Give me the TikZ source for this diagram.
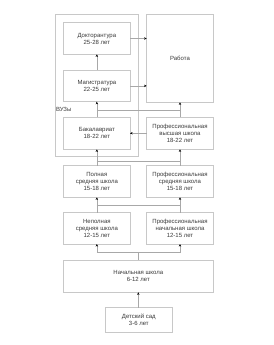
\documentclass[tikz,border=0pt]{standalone}
\usepackage{fontspec}
\setmainfont{Liberation Sans}
\usetikzlibrary{arrows.meta}
\definecolor{boxline}{HTML}{C8C8C8}
\definecolor{conn}{HTML}{A8A8A8}
\definecolor{txt}{HTML}{3A3A3A}
\begin{document}
\begin{tikzpicture}[x=1pt,y=-1pt,
  box/.style={draw=boxline,line width=0.6pt,fill=white},
  lbl/.style={text=txt,font=\fontsize{6}{7}\selectfont,align=center,inner sep=0pt},
  arr/.style={draw=conn,line width=0.6pt,-{Stealth[length=2.6pt,width=2.4pt,black]}},
  ln/.style={draw=conn,line width=0.6pt}]
\useasboundingbox[fill=white] (0,0) rectangle (273,345);
% outer VUZ box
\draw[box] (55,14) rectangle (138.3,156.7);
\node[lbl,fill=white,anchor=west,inner sep=0.5pt] (vuz) at (55.3,109.5) {ВУЗы};
% boxes
\draw[box] (63.7,22.7) rectangle (130,54.3) node[midway,lbl] (doc) {Докторантура\\25-28 лет};
\draw[box] (146.7,14.3) rectangle (213.3,102.3) node[midway,lbl] (rab) {Работа};
\draw[box] (63.7,70) rectangle (130,101.7) node[midway,lbl] (mag) {Магистратура\\22-25 лет};
\draw[box] (63.7,117.3) rectangle (130,149.3) node[midway,lbl] (bak) {Бакалавриат\\18-22 лет};
\draw[box] (146.7,117.3) rectangle (213.3,149.3) node[midway,lbl] (pvs) {Профессиональная\\высшая школа\\18-22 лет};
\draw[box] (63.7,165.7) rectangle (130,197.3) node[midway,lbl] (pol) {Полная\\средняя школа\\15-18 лет};
\draw[box] (146.7,165.7) rectangle (213.3,197.3) node[midway,lbl] (pss) {Профессиональная\\средняя школа\\15-18 лет};
\draw[box] (63.7,212.7) rectangle (130,244) node[midway,lbl] (nep) {Неполная\\средняя школа\\12-15 лет};
\draw[box] (146.7,212.7) rectangle (213.3,244) node[midway,lbl] (pns) {Профессиональная\\начальная школа\\12-15 лет};
\draw[box] (63.3,260) rectangle (213.3,292.3) node[midway,lbl] (nach) {Начальная школа\\6-12 лет};
\draw[box] (105.3,307.7) rectangle (172.3,332.3) node[midway,lbl] (ds) {Детский сад\\3-6 лет};
% coordinates for box edges
\coordinate (docS) at (96.85,54.3);
\coordinate (docE) at (130,38.5);
\coordinate (magN) at (96.85,70);
\coordinate (magS) at (96.85,101.7);
\coordinate (magE) at (130,85.9);
\coordinate (rabW1) at (146.7,38.5);
\coordinate (rabW2) at (146.7,85.9);
\coordinate (rabS) at (180,102.3);
\coordinate (bakN) at (96.85,117.3);
\coordinate (bakS) at (96.85,149.3);
\coordinate (bakE) at (130,133.3);
\coordinate (pvsN) at (180,117.3);
\coordinate (pvsS) at (180,149.3);
\coordinate (pvsW) at (146.7,133.3);
\coordinate (polN) at (96.85,165.7);
\coordinate (polS) at (96.85,197.3);
\coordinate (pssN) at (180,165.7);
\coordinate (pssS) at (180,197.3);
\coordinate (nepN) at (96.85,212.7);
\coordinate (nepS) at (96.85,244);
\coordinate (pnsN) at (180,212.7);
\coordinate (pnsS) at (180,244);
\coordinate (nachN) at (138.3,260);
\coordinate (nachS) at (138.3,292.3);
\coordinate (dsN) at (138.3,307.7);
% junction coordinates
\coordinate (j1) at (96.85,110);
\coordinate (j2) at (180,110);
\coordinate (j3) at (96.85,161.7);
\coordinate (j4) at (180,161.7);
\coordinate (j5) at (96.85,205.7);
\coordinate (j6) at (180,205.7);
\coordinate (j7) at (96.85,252.7);
\coordinate (j8) at (180,252.7);
\coordinate (j9) at (138.3,252.7);
% connectors
\draw[arr] (magN) -- (docS);
\draw[arr] (docE) -- (rabW1);
\draw[arr] (magE) -- (rabW2);
\draw[arr] (pvsW) -- (bakE);
\draw[ln] (j1) -- (j2);
\draw[arr] (bakN) -- (magS);
\draw[arr] (pvsN) -- (rabS);
\draw[ln] (j3) -- (j4);
\draw[arr] (polN) -- (bakS);
\draw[arr] (pssN) -- (pvsS);
\draw[ln] (j5) -- (j6);
\draw[arr] (nepN) -- (polS);
\draw[arr] (pnsN) -- (pssS);
\draw[ln] (nachN) -- (j9);
\draw[ln] (j7) -- (j8);
\draw[arr] (j7) -- (nepS);
\draw[arr] (j8) -- (pnsS);
\draw[arr] (dsN) -- (nachS);
\end{tikzpicture}
\end{document}
